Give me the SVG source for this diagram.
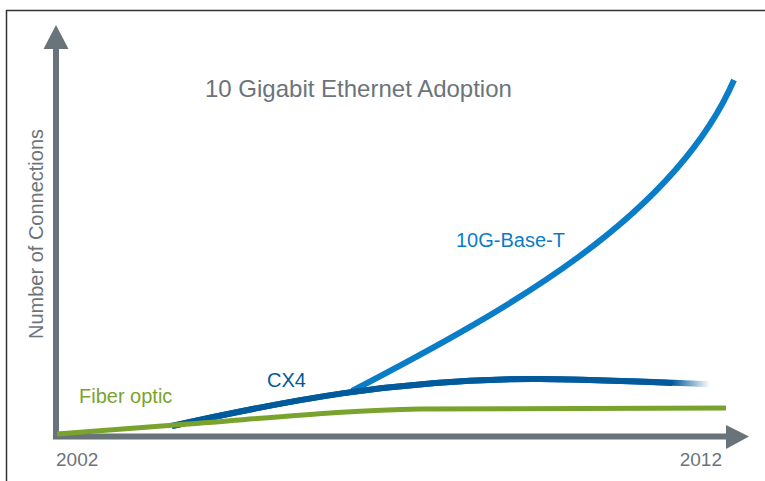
<svg xmlns="http://www.w3.org/2000/svg" width="765" height="481" viewBox="0 0 765 481">
  <defs>
    <style>
      text { font-family: "Liberation Sans", Arial, sans-serif; }
      .gray { fill: #6b747b; }
      .axis { stroke: #69737a; stroke-width: 6; fill: none; }
      .curve { fill: none; stroke-linecap: butt; stroke-linejoin: round; }
    </style>
    <linearGradient id="cx4fade" gradientUnits="userSpaceOnUse" x1="672" y1="0" x2="710" y2="0">
      <stop offset="0" stop-color="#005a9c" stop-opacity="1"/>
      <stop offset="1" stop-color="#005a9c" stop-opacity="0"/>
    </linearGradient>
  </defs>
  <rect x="0" y="0" width="765" height="481" fill="#ffffff"/>
  <rect id="frame" x="6.5" y="10.5" width="800" height="500" fill="none" stroke="#333333" stroke-width="1.5"/>

  <g id="axes">
    <line class="axis" x1="56" y1="48" x2="56" y2="439"/>
    <polygon points="56,25 68.5,49 43.5,49" fill="#69737a"/>
    <line class="axis" x1="53" y1="436.5" x2="727" y2="436.5"/>
    <polygon points="749,436.5 726,425 726,449" fill="#69737a"/>
  </g>

  <g id="curves">
    <path id="base-t" class="curve" d="M352,391 C 507,310 674,218 734,80" stroke="#0a7dc8" stroke-width="6"/>
    <path id="cx4" class="curve" d="M172,426 C 280,402 400,378 540,379 C 620,380 670,383 710,384" stroke="url(#cx4fade)" stroke-width="6"/>
    <path id="cx4solid" class="curve" d="M172,426 C 280,402 400,378 540,379 C 610,380 650,382 672,383" stroke="#005a9c" stroke-width="6"/>
    <path id="fiber" class="curve" d="M57,434 L175,425 C 280,417 350,410 420,409 L726,408" stroke="#7aa32e" stroke-width="5"/>
  </g>

  <g id="labels">
    <text id="title" class="gray" x="205" y="97" font-size="24">10 Gigabit Ethernet Adoption</text>
    <text id="ylabel" class="gray" font-size="20" text-anchor="middle" transform="translate(43,234) rotate(-90)">Number of Connections</text>
    <text id="x2002" class="gray" x="56" y="466" font-size="19">2002</text>
    <text id="x2012" class="gray" x="722" y="466" font-size="19" text-anchor="end">2012</text>
    <text id="lbl-fiber" x="79" y="403" font-size="20" fill="#7aa32e">Fiber optic</text>
    <text id="lbl-cx4" x="267" y="387" font-size="20" fill="#005a9c">CX4</text>
    <text id="lbl-baset" x="456" y="247" font-size="20" fill="#0a7dc8">10G-Base-T</text>
  </g>
</svg>
